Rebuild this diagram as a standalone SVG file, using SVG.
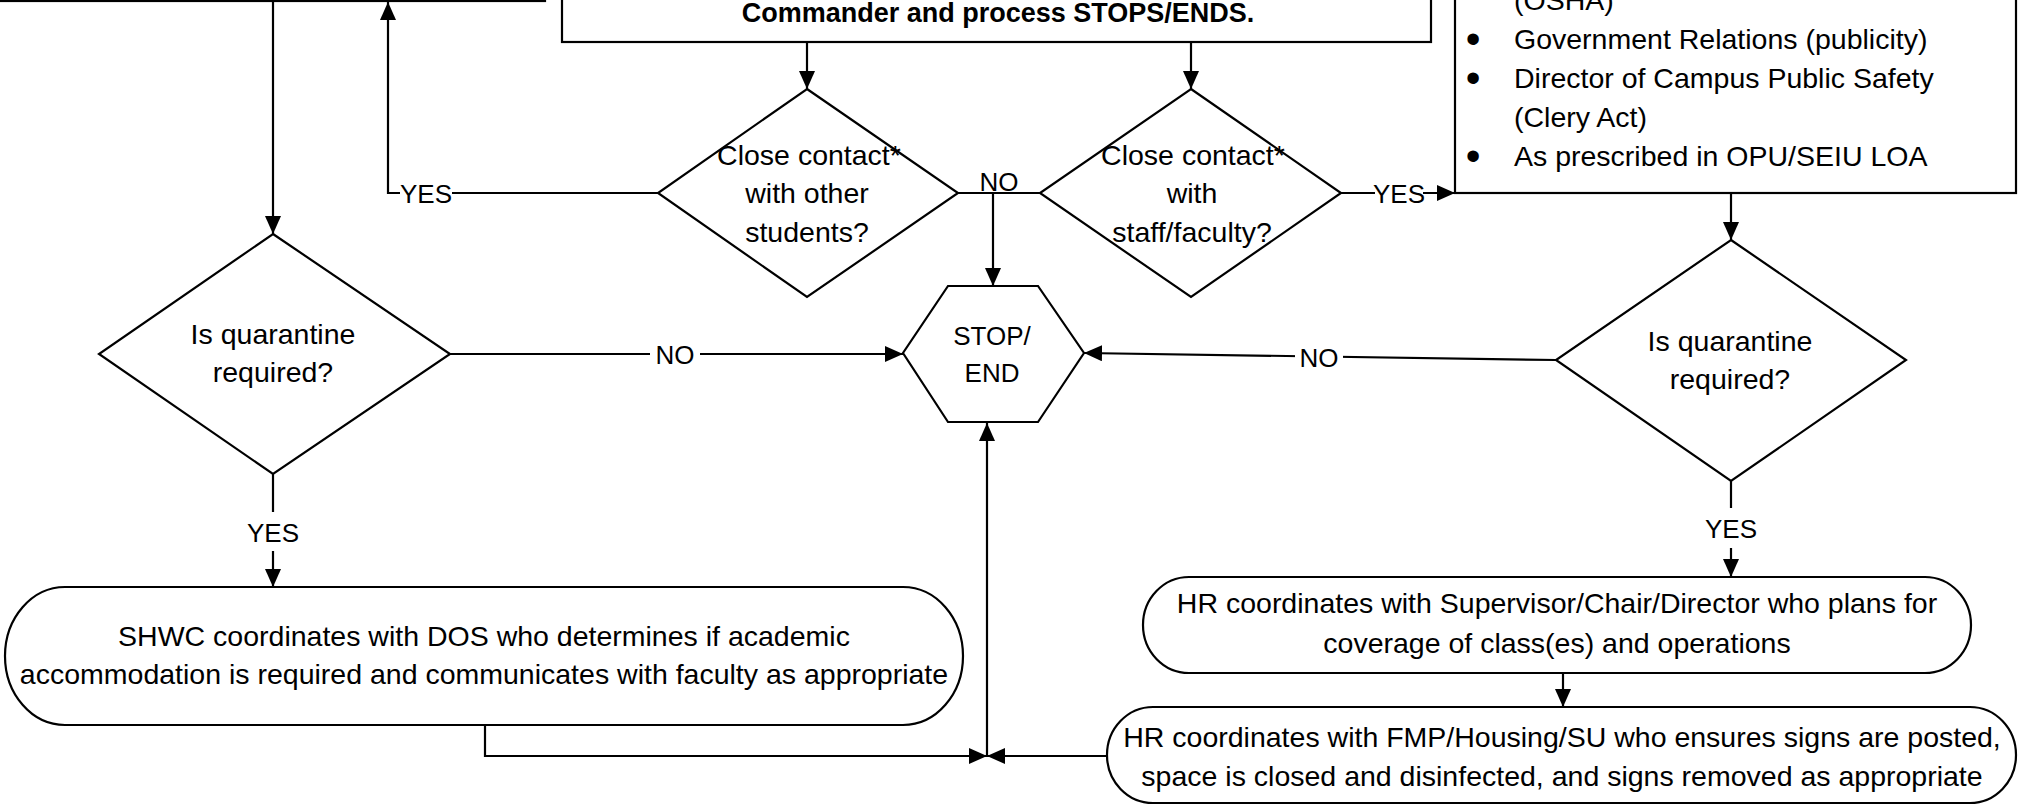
<svg xmlns="http://www.w3.org/2000/svg" width="2019" height="806" viewBox="0 0 2019 806">
<style>
.s{fill:none;stroke:#000;stroke-width:2.2}
.n{fill:#fff;stroke:#000;stroke-width:2.2}
text{font-family:"Liberation Sans",Arial,sans-serif;fill:#000}
.t{font-size:28.5px;text-anchor:middle}
.l{font-size:26px;text-anchor:middle}
.b{font-size:27px;font-weight:bold;text-anchor:middle}
.lt{font-size:28.5px}
.bu{font-size:42px;text-anchor:middle}
.bg{fill:#fff;stroke:none}
</style>
<defs>
<marker id="ah" markerUnits="userSpaceOnUse" markerWidth="18" markerHeight="16" refX="18" refY="8" orient="auto" viewBox="0 0 18 16"><path d="M0,0 L18,8 L0,16 z" fill="#000"/></marker>
</defs>
<rect width="2019" height="806" fill="#fff"/>

<g id="connectors">
<path class="s" d="M273,1 V234" marker-end="url(#ah)"/>
<path class="s" d="M807,42 V89" marker-end="url(#ah)"/>
<path class="s" d="M1191,42 V89" marker-end="url(#ah)"/>
<path class="s" d="M658,193 H388 V2" marker-end="url(#ah)"/>
<path class="s" d="M958,193 H1040"/>
<path class="s" d="M993,193 V286" marker-end="url(#ah)"/>
<path class="s" d="M1341,193 H1455" marker-end="url(#ah)"/>
<path class="s" d="M1731,193 V240" marker-end="url(#ah)"/>
<path class="s" d="M450,354 H903" marker-end="url(#ah)"/>
<path class="s" d="M1556,360 L1084,353" marker-end="url(#ah)"/>
<path class="s" d="M273,474 V587" marker-end="url(#ah)"/>
<path class="s" d="M1731,481 V577" marker-end="url(#ah)"/>
<path class="s" d="M1563,673 V707" marker-end="url(#ah)"/>
<path class="s" d="M485,725 V756 H987" marker-end="url(#ah)"/>
<path class="s" d="M1107,756 H987" marker-end="url(#ah)"/>
<path class="s" d="M987,756 V423" marker-end="url(#ah)"/>
<rect class="bg" x="400" y="180" width="52" height="26"/>
<text class="l" x="426" y="203">YES</text>
<rect class="bg" x="1375" y="180" width="48" height="26"/>
<text class="l" x="1399" y="203">YES</text>
<text class="l" x="999" y="191">NO</text>
<rect class="bg" x="650" y="340" width="50" height="28"/>
<text class="l" x="675" y="364">NO</text>
<rect class="bg" x="1295" y="343" width="48" height="28"/>
<text class="l" x="1319" y="367">NO</text>
<rect class="bg" x="248" y="512" width="50" height="39"/>
<text class="l" x="273" y="542">YES</text>
<rect class="bg" x="1706" y="508" width="50" height="40"/>
<text class="l" x="1731" y="538">YES</text>
</g>

<g id="top-left-box">
<rect class="n" x="-5" y="-100" width="550" height="101"/>
</g>

<g id="top-box">
<rect class="n" x="562" y="-100" width="869" height="142"/>
<text class="b" x="998" y="22">Commander and process STOPS/ENDS.</text>
</g>

<g id="notify-box">
<rect class="n" x="1455" y="-100" width="561" height="293"/>
<text class="lt" x="1514" y="10">(OSHA)</text>
<text class="bu" x="1473" y="53">•</text>
<text class="lt" x="1514" y="49">Government Relations (publicity)</text>
<text class="bu" x="1473" y="92">•</text>
<text class="lt" x="1514" y="88">Director of Campus Public Safety</text>
<text class="lt" x="1514" y="127">(Clery Act)</text>
<text class="bu" x="1473" y="170">•</text>
<text class="lt" x="1514" y="166">As prescribed in OPU/SEIU LOA</text>
</g>

<g id="d-students">
<polygon class="n" points="807,89 958,193 807,297 658,193"/>
<text class="t" x="809" y="165">Close contact*</text>
<text class="t" x="807" y="203">with other</text>
<text class="t" x="807" y="242">students?</text>
</g>

<g id="d-staff">
<polygon class="n" points="1191,89 1341,193 1191,297 1040,193"/>
<text class="t" x="1193" y="165">Close contact*</text>
<text class="t" x="1192" y="203">with</text>
<text class="t" x="1192" y="242">staff/faculty?</text>
</g>

<g id="stop-end">
<polygon class="n" points="948,286 1038,286 1084,353 1038,422 948,422 903,353"/>
<text class="l" x="992" y="345">STOP/</text>
<text class="l" x="992" y="382">END</text>
</g>

<g id="q-left">
<polygon class="n" points="273,234 450,354 273,474 99,354"/>
<text class="t" x="273" y="344">Is quarantine</text>
<text class="t" x="273" y="382">required?</text>
</g>

<g id="q-right">
<polygon class="n" points="1731,240 1906,360 1731,481 1556,360"/>
<text class="t" x="1730" y="351">Is quarantine</text>
<text class="t" x="1730" y="389">required?</text>
</g>

<g id="shwc">
<rect class="n" x="5" y="587" width="958" height="138" rx="60" ry="69"/>
<text class="t" x="484" y="646">SHWC coordinates with DOS who determines if academic</text>
<text class="t" x="484" y="684">accommodation is required and communicates with faculty as appropriate</text>
</g>

<g id="hr-supervisor">
<rect class="n" x="1143" y="577" width="828" height="96" rx="46" ry="48"/>
<text class="t" x="1557" y="613">HR coordinates with Supervisor/Chair/Director who plans for</text>
<text class="t" x="1557" y="653">coverage of class(es) and operations</text>
</g>

<g id="hr-fmp">
<rect class="n" x="1107" y="707" width="909" height="96" rx="46" ry="48"/>
<text class="t" x="1562" y="747">HR coordinates with FMP/Housing/SU who ensures signs are posted,</text>
<text class="t" x="1562" y="786">space is closed and disinfected, and signs removed as appropriate</text>
</g>
</svg>
